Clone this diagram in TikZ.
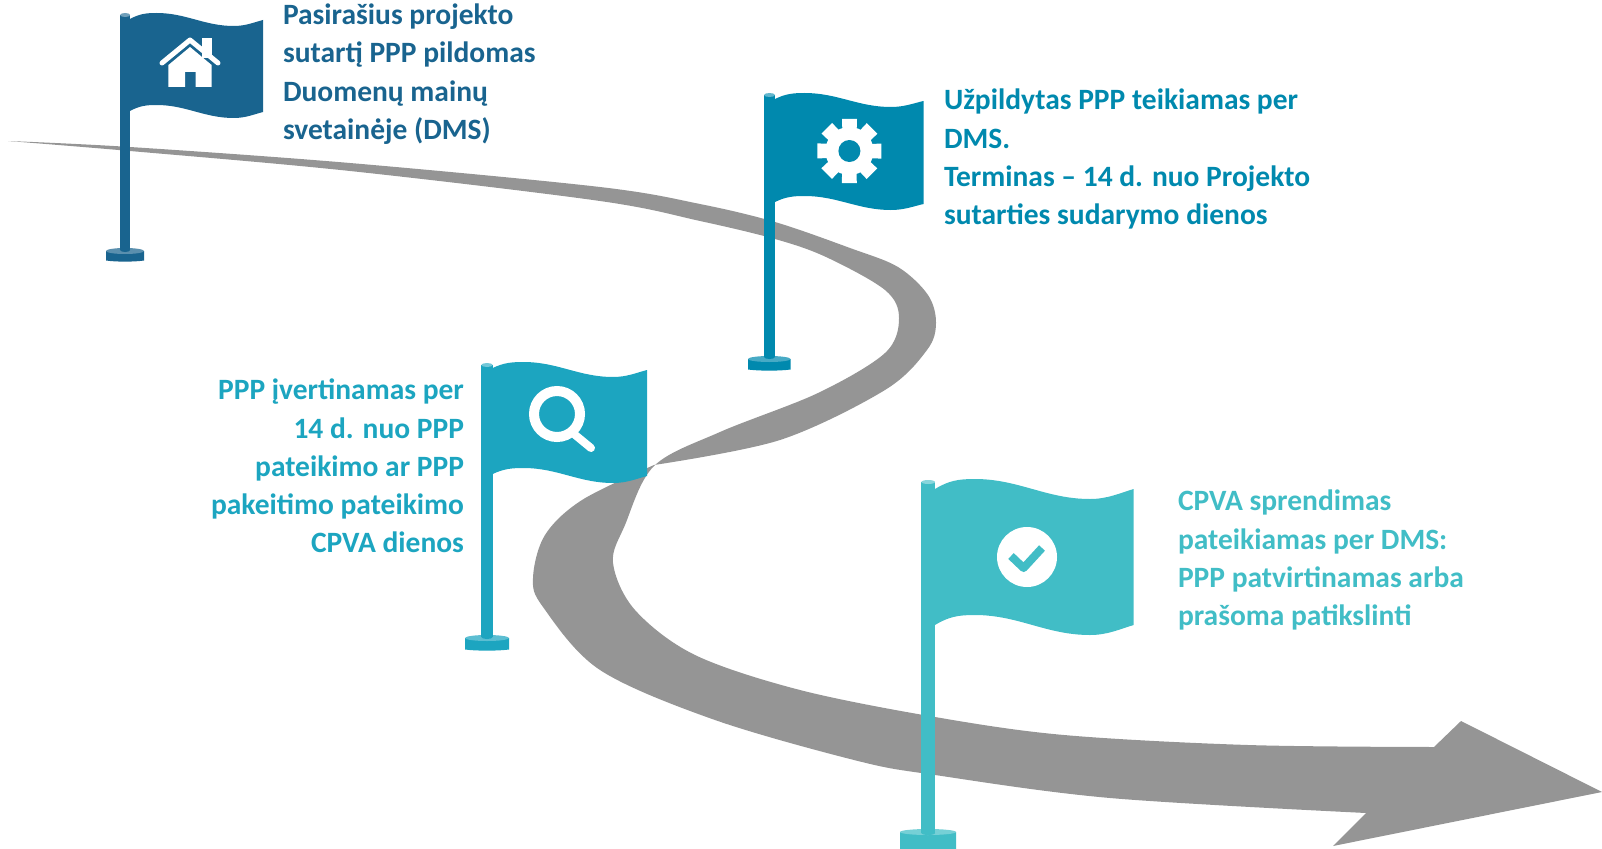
\documentclass[tikz,border=0pt]{standalone}
\usepackage{fontspec}
\setmainfont{Carlito}
\definecolor{cA}{HTML}{19648F}
\definecolor{cB}{HTML}{0089AE}
\definecolor{cC}{HTML}{1CA5C0}
\definecolor{cD}{HTML}{41BDC6}
\definecolor{road}{HTML}{959595}
\tikzset{
  lbl/.style={inner sep=0pt,outer sep=0pt,font=\fontsize{29.5}{38.3}\selectfont\bfseries},
  glyph/.style={white,line cap=round,line join=round}
}
% colour, L, R, height, a, peak, trough, b
\newcommand\flagbody[8]{%
  \pgfmathsetmacro\ww{#3-#2}
  \pgfmathsetmacro\xp{#2+.2*\ww}
  \pgfmathsetmacro\xt{#2+.78*\ww}
  \pgfmathsetmacro\ca{#2+.07*\ww}
  \pgfmathsetmacro\cb{\xp-.08*\ww}
  \pgfmathsetmacro\cc{\xp+.22*\ww}
  \pgfmathsetmacro\cd{\xt-.22*\ww}
  \pgfmathsetmacro\ce{\xt+.09*\ww}
  \pgfmathsetmacro\cf{#3-.07*\ww}
  \fill[#1]
   (#2,#5) .. controls (\ca,{#6+.15*(#5-#6)}) and (\cb,#6) .. (\xp,#6)
   .. controls (\cc,#6) and (\cd,#7) .. (\xt,#7)
   .. controls (\ce,#7) and (\cf,{#8+.4*(#7-#8)}) .. (#3,#8)
   -- (#3,{#8+#4})
   .. controls (\cf,{#8+#4+.4*(#7-#8)}) and (\ce,{#7+#4}) .. (\xt,{#7+#4})
   .. controls (\cd,{#7+#4}) and (\cc,{#6+#4}) .. (\xp,{#6+#4})
   .. controls (\cb,{#6+#4}) and (\ca,{#6+#4+.15*(#5-#6)}) .. (#2,{#5+#4}) -- cycle;
}
% colour, poleL, poleR, top, bottom, baseL, baseR, baseTop, baseBot
\newcommand\poleset[9]{%
  \pgfmathsetmacro\mx{(#2+#3)/2}
  \pgfmathsetmacro\rx{(#3-#2)/2}
  \pgfmathsetmacro\bx{(#6+#7)/2}
  \pgfmathsetmacro\brx{(#7-#6)/2}
  \fill[#1] (#6,#8+3) -- (#7,#8+3) -- (#7,#9-1.5)
     .. controls (\bx+.5*\brx,#9) and (\bx-.5*\brx,#9) .. (#6,#9-1.5) -- cycle;
  \fill[#1!72!white] (\bx,#8+3) ellipse [x radius=\brx,y radius=3];
  \fill[#1] (#2,#4+2) rectangle (#3,#5);
  \fill[#1] (\mx,#5) ellipse [x radius=\rx,y radius=2];
  \fill[#1!62!white] (\mx,#4+2) ellipse [x radius=\rx,y radius=2];
}
\begin{document}
\begin{tikzpicture}[x=1pt,y=-1pt]
\useasboundingbox (0,0) rectangle (1602,848);
% road
\fill[road] plot[smooth,tension=.55] coordinates {(8,141) (130,147) (350,163) (600,187) (700,204) (775,222) (850,248) (898,267) (928,295) (936,323) (927,350) (885,390) (780,440) (654,465)}
 -- plot[smooth,tension=.55] coordinates {(654,465) (582,500) (545,535) (533,578) (543,607) (600,670) (715,720) (858,761) (935,775) (1110,798) (1366,813)}
 -- (1333,846) -- (1602,792) -- (1461,721) -- (1434,747)
 -- plot[smooth,tension=.55] coordinates {(1434,747) (1248,745) (1064,735) (935,717) (800,690) (695,655) (635,610) (613,563) (625,525) (654,466) (720,432) (818,393) (885,353) (899,318) (885,290) (826,257) (775,239) (700,221) (600,201) (350,171) (130,151) (8,141)} -- cycle;
% flag 1
\flagbody{cA}{130}{263}{92}{19}{13}{26}{20}
\poleset{cA}{120.2}{130.2}{13}{250}{106}{144}{248}{262}
\fill[glyph] (168.4,65) -- (190,47) -- (211.6,65) -- (211.6,87) -- (195.6,87) -- (195.6,72) -- (185,72) -- (185,87) -- (168.4,87) -- cycle;
\fill[white] (201.7,38) rectangle (211.6,58);
\draw[glyph,line width=5pt] (162,63) -- (190,40) -- (218,63);
% flag 2
\flagbody{cB}{775}{923.5}{103}{99}{93}{107}{101}
\poleset{cB}{764}{775}{93}{357}{748}{790.5}{356}{371}
\fill[white] (849.4,151) circle [radius=24];
\foreach \a in {0,45,...,315}
  \fill[white,rotate around={\a:(849.4,151)}] (843,151) -- (842,119) -- (857,119) -- (856,151) -- cycle;
\fill[cB] (849.4,151) circle [radius=11];
% flag 3
\flagbody{cC}{492.7}{647}{106}{368}{362}{377}{370}
\poleset{cC}{481.3}{492.7}{363}{637}{465}{509}{635}{651}
\draw[white,line width=10pt] (557,414) circle [radius=23];
\draw[glyph,line width=8pt] (574,434) -- (591,448);
% flag 4
\flagbody{cD}{935}{1133.7}{136}{489}{479}{499}{489}
\poleset{cD}{921.4}{935}{480}{833}{900}{956}{829}{852}
\fill[white] (1027,557) circle [radius=30];
\draw[cD,line width=8pt,line join=round] (1011,556) -- (1023.6,568) -- (1042,548);
% texts
\node[lbl,text=cA,anchor=north west,align=left] (t1) at (283,4) {Pasirašius projekto\\sutartį PPP pildomas\\Duomenų mainų\\svetainėje (DMS)};
\node[lbl,text=cB,anchor=north west,align=left] (t2) at (944,89) {Užpildytas PPP teikiamas per\\DMS.\\Terminas – 14 d. nuo Projekto\\sutarties sudarymo dienos};
\node[lbl,text=cC,anchor=north east,align=right] (t3) at (464,379) {PPP įvertinamas per\\14 d. nuo PPP\\pateikimo ar PPP\\pakeitimo pateikimo\\CPVA dienos};
\node[lbl,text=cD,anchor=north west,align=left] (t4) at (1178,490) {CPVA sprendimas\\pateikiamas per DMS:\\PPP patvirtinamas arba\\prašoma patikslinti};
\end{tikzpicture}
\end{document}
